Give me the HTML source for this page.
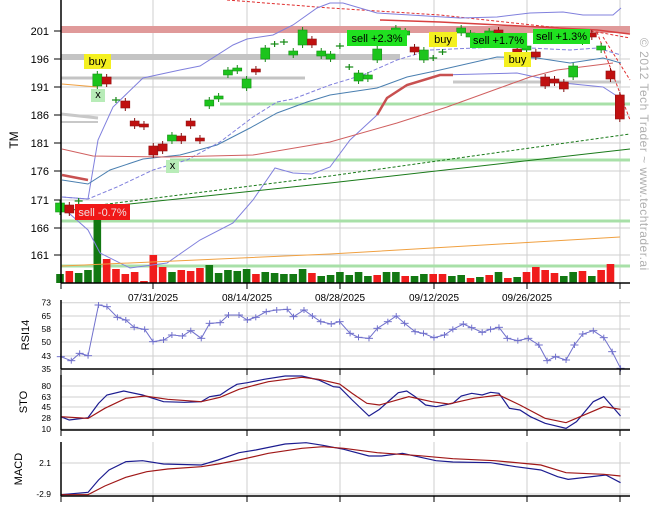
<!DOCTYPE html>
<html><head><meta charset="utf-8"><style>
body{margin:0;background:#fff}
svg{display:block;font-family:"Liberation Sans",sans-serif}
</style></head><body>
<svg id="s" width="657" height="514" viewBox="0 0 657 514" xmlns="http://www.w3.org/2000/svg">
<rect width="657" height="514" fill="#fff"/>
<g id="grid" stroke="#cfcfcf" stroke-width="1"></g>
<g id="bands"></g>
<g id="vol"></g>
<g id="lines" fill="none"></g>
<g id="cand"></g>
<g id="labels" font-size="11"></g>
<g id="axes" stroke="#000" stroke-width="1.5"></g>
<g id="txt" font-size="9" fill="#000"></g>
<text x="640" y="38" transform="rotate(90 640 38)" font-size="12" fill="#b0b0b0" letter-spacing="0.5">© 2012 Tech Trader ~ www.techtrader.ai</text>
</svg>
<script>
const NS="http://www.w3.org/2000/svg";
function el(p,t,a,txt){const e=document.createElementNS(NS,t);for(const k in a)e.setAttribute(k,a[k]);if(txt!==undefined)e.textContent=txt;document.getElementById(p).appendChild(e);return e;}
function pl(p,pts,st,w,dash){el(p,'polyline',{points:pts.map(q=>q.join(',')).join(' '),stroke:st,'stroke-width':w||1,fill:'none','stroke-dasharray':dash||'none'});}
const L=61,R=630;
const vx=[153,247,340,434,527,620];
[31,59,87,115,143,171,200,228,255].forEach(y=>el('grid','line',{x1:L,x2:R,y1:y,y2:y}));
[302.7,316,329,342,356,369].forEach(y=>el('grid','line',{x1:L,x2:R,y1:y,y2:y}));
[386,397,407,418,429].forEach(y=>el('grid','line',{x1:L,x2:R,y1:y,y2:y}));
[463,494].forEach(y=>el('grid','line',{x1:L,x2:R,y1:y,y2:y}));
vx.forEach(x=>{[[0,283],[300,369],[375,430],[442,496]].forEach(r=>el('grid','line',{x1:x,x2:x,y1:r[0],y2:r[1]}));});
el('bands','rect',{x:L,y:26,width:R-L,height:7,fill:'#e09a9a'});
el('bands','line',{x1:L,x2:400,y1:57,y2:57,stroke:'#c4c4c4','stroke-width':6});
el('bands','line',{x1:L,x2:305,y1:78,y2:78,stroke:'#c4c4c4','stroke-width':3});
el('bands','line',{x1:453,x2:621,y1:82,y2:82,stroke:'#c8c8c8','stroke-width':3});
el('bands','line',{x1:L,x2:98,y1:114,y2:118,stroke:'#c8c8c8','stroke-width':3});
el('bands','line',{x1:L,x2:98,y1:122,y2:122,stroke:'#c8c8c8','stroke-width':2});
[[220,104],[170,160],[L,221],[L,266]].forEach(a=>el('bands','line',{x1:a[0],x2:R,y1:a[1],y2:a[1],stroke:'#a8e0a8','stroke-width':3}));
const vol=[['g',274],['r',271],['g',273],['g',270],['g',216],['r',259],['r',269],['r',274],['r',272],['r',281],['r',255],['r',267],['g',272],['r',270],['r',271],['r',268],['g',265],['g',273],['g',270],['g',271],['g',269],['r',274],['g',272],['g',273],['g',274],['g',274],['g',269],['r',273],['g',276],
['g',275],['g',272],['g',275],['g',272],['g',276],['r',275],['g',272],['g',272],['r',276],['g',276],['g',274],['r',274],['r',274],['g',276],['g',275],['r',278],['g',277],['r',275],['g',272],['r',278],['g',277],['r',272],['r',267],['r',270],['r',273],['g',276],['g',272],['r',271],['g',276],['r',270],['r',264]];
const X=i=>60+9.33*i;
vol.forEach((v,i)=>el('vol','rect',{x:X(i)-3.8,y:v[1],width:7.6,height:283-v[1],fill:v[0]=='g'?'#127812':'#f01c1c'}));
pl('lines',[[227,0],[330,8],[440,15],[597,32],[630,38]],'#e03030',1,'3,2');
pl('lines',[[380,20],[440,22],[500,25],[597,30],[630,34]],'#d84040',1.5);
pl('lines',[[597,32],[630,120]],'#e03030',1,'3,2');
pl('lines',[[603,37],[630,80]],'#e03030',1,'3,2');
pl('lines',[[62,197],[88,199],[98,140],[113,107],[143,78],[180,70],[200,66],[233,45],[247,39],[273,35],[293,25],[317,8],[330,3],[343,3],[377,13],[460,18],[497,17],[530,13],[563,12],[583,15],[613,15],[621,8]],'#8080dd',1);
pl('lines',[[62,180],[88,184],[110,170],[143,159],[180,155],[217,145],[250,128],[277,113],[307,102],[330,95],[377,88],[407,77],[440,70],[497,57],[537,58],[570,63],[603,58],[621,63]],'#4a7fb0',1);
pl('lines',[[62,197],[88,199],[117,187],[153,170],[187,160],[220,142],[253,117],[277,102],[293,99],[330,85],[363,75],[397,60],[430,50],[497,47],[530,48],[570,50],[597,48],[621,55]],'#8080dd',1,'4,2');
pl('lines',[[62,207],[88,230],[100,253],[130,268],[167,263],[200,240],[233,223],[253,200],[275,168],[293,173],[312,174],[330,167],[350,140],[377,115],[387,98],[407,85],[440,75],[517,73],[563,83],[603,87],[620,98]],'#8080dd',1);
pl('lines',[[377,115],[387,98],[407,85],[440,75],[453,75]],'#c85050',2.5);
pl('lines',[[62,175],[88,180]],'#c85050',2.5);
pl('lines',[[62,149],[93,156],[167,157],[253,155],[330,142],[397,123],[447,107],[530,77],[557,70],[613,63]],'#d06060',1);
pl('lines',[[62,211],[330,183],[630,149]],'#1a7a1a',1);
pl('lines',[[100,205],[330,176],[630,134]],'#1a7a1a',1,'3,2');
pl('lines',[[62,84],[97,87]],'#f0a040',1);
pl('lines',[[62,266],[330,254],[620,237]],'#f0a040',1);
const C=[[0,'g',203,212],[1,'r',205,213],[2,'x',201],[4,'g',74,86],[5,'r',77,84],[6,'x',100],[7,'r',101,108],[8,'r',121,126],[9,'r',124,127],[10,'r',146,155],[11,'r',144,151],[12,'g',135,141],[13,'r',136,141],[14,'r',121,126],[15,'r',138,141],[16,'g',100,106],[17,'g',96,99],[18,'g',70,75],[19,'g',68,71],[20,'g',79,88],[21,'r',69,72],[22,'g',48,59],[23,'x',44],[24,'x',42],[25,'g',51,55],[26,'g',30,45],[27,'r',39,45],[28,'g',51,56],[29,'g',54,59],[30,'x',46],[31,'x',67],[32,'g',73,81],[33,'g',75,79],[34,'g',49,60],[36,'g',28,33],[37,'g',31,35],[38,'r',47,52],[39,'g',50,60],[40,'x',58],[41,'x',52],[43,'g',28,33],[44,'g',33,37],[46,'g',31,34],[47,'r',30,33],[49,'r',49,52],[50,'g',46,50],[51,'r',52,57],[52,'r',77,86],[53,'r',79,83],[54,'r',82,89],[55,'g',66,77],[56,'g',38,42],[57,'r',33,37],[58,'g',46,50],[59,'r',71,79],[60,'r',95,119]];
C.forEach(c=>{const x=X(c[0]);
 if(c[1]=='x'){el('cand','line',{x1:x-4,x2:x+4,y1:c[2],y2:c[2],stroke:'#128812','stroke-width':1.2});el('cand','line',{x1:x,x2:x,y1:c[2]-3,y2:c[2]+3,stroke:'#128812','stroke-width':1.2});return;}
 const col=c[1]=='g'?'#1cc41c':'#c01010';
 el('cand','line',{x1:x,x2:x,y1:c[2]-3,y2:c[3]+3,stroke:c[1]=='g'?'#128812':'#801010','stroke-width':1});
 el('cand','rect',{x:x-4.5,y:c[2],width:9,height:Math.max(2,c[3]-c[2]),fill:col,stroke:c[1]=='g'?'#189018':'#901010','stroke-width':0.6});});
function lab(x,y,w,h,bg,t,fc){el('labels','rect',{x:x,y:y,width:w,height:h,fill:bg});el('labels','text',{x:x+w/2,y:y+h-4,'text-anchor':'middle',fill:fc||'#000'},t);}
lab(84,54,27,15,'#f4f020','buy');
lab(91,89,14,13,'#b8ecb8','x');
lab(166,160,13,13,'#b8ecb8','x');
lab(75,204,55,16,'#f01818','sell -0.7%','#f0e0e0');
lab(347,30,60,16,'#20e020','sell +2.3%');
lab(429,32,28,15,'#f4f020','buy');
lab(470,33,57,15,'#20e020','sell +1.7%');
lab(504,52,27,15,'#f4f020','buy');
lab(533,29,57,15,'#20e020','sell +1.3%');
const sx=z=>z/2.385, sy=z=>290+z/3;
const rsi=[[145,200],[170,212],[190,190],[210,197],[235,45],[255,50],[280,82],[300,90],[320,112],[345,118],[365,155],[390,150],[410,135],[435,138],[455,122],[480,145],[500,100],[525,98],[545,75],[570,75],[590,90],[610,82],[635,65],[660,60],[685,58],[700,80],[725,60],[745,78],[765,95],[790,102],[810,95],[835,130],[855,142],[880,145],[900,115],[925,95],[945,78],[965,100],[990,125],[1010,130],[1035,143],[1060,135],[1080,118],[1105,102],[1125,113],[1150,127],[1170,118],[1190,112],[1210,145],[1235,152],[1260,145],[1285,165],[1305,212],[1325,200],[1350,210],[1370,165],[1390,132],[1415,122],[1440,143],[1460,185],[1480,235]].map(p=>[sx(p[0]),sy(p[1])]);
pl('lines',rsi,'#7070cc',1);
rsi.forEach(p=>{el('lines','line',{x1:p[0]-4,x2:p[0]+4,y1:p[1],y2:p[1],stroke:'#7070cc'});el('lines','line',{x1:p[0],x2:p[0],y1:p[1]-3,y2:p[1]+3,stroke:'#7070cc'});});
const stoB=[[145,380],[165,390],[210,383],[235,340],[255,315],[295,303],[340,315],[390,335],[440,337],[480,335],[500,320],[525,315],[545,298],[565,283],[590,278],[630,268],[680,258],[720,258],[760,270],[795,290],[810,292],[840,330],[880,378],[905,358],[930,330],[950,308],[970,303],[990,320],[1015,345],[1040,350],[1080,340],[1100,318],[1125,310],[1150,315],[1170,307],[1190,310],[1215,355],[1240,360],[1265,380],[1300,400],[1350,415],[1375,395],[1415,335],[1440,320],[1480,378]];
const stoR=[[145,380],[210,385],[250,355],[300,325],[345,318],[400,328],[480,335],[525,322],[570,298],[640,275],[720,262],[760,268],[810,282],[840,310],[875,340],[905,345],[975,320],[1030,335],[1070,342],[1130,325],[1190,315],[1240,345],[1300,385],[1350,398],[1440,350],[1480,358]];
const mB=[[145,614],[210,607],[235,570],[260,540],[300,515],[340,512],[390,522],[480,525],[520,510],[570,488],[610,480],[680,462],[730,458],[770,466],[820,478],[880,498],[910,498],[960,490],[1040,512],[1080,516],[1170,518],[1230,530],[1290,540],[1330,560],[1355,568],[1445,555],[1480,578]];
const mR=[[145,614],[210,614],[250,588],[300,562],[350,545],[400,537],[480,530],[520,522],[570,510],[640,490],[720,475],[770,470],[820,475],[900,488],[1000,497],[1080,506],[1180,512],[1290,525],[1350,548],[1440,553],[1480,558]];
const m=a=>a.map(p=>[sx(p[0]),sy(p[1])]);
pl('lines',m(stoB),'#1c1c90',1.2);pl('lines',m(stoR),'#a01818',1.2);
pl('lines',m(mB),'#1c1c90',1.2);pl('lines',m(mR),'#a01818',1.2);
[[0,283],[300,369],[375,430],[442,496]].forEach(r=>{el('axes','line',{x1:L,x2:L,y1:r[0],y2:r[1]});el('axes','line',{x1:L,x2:R,y1:r[1],y2:r[1]});
 vx.concat([61]).forEach(x=>el('axes','line',{x1:x,x2:x,y1:r[1],y2:r[1]+6,'stroke-width':1}));});
[[201,31],[196,59],[191,87],[186,115],[181,143],[176,171],[171,200],[166,228],[161,255]].forEach(a=>{el('txt','text',{x:49,y:a[1]+4,'text-anchor':'end','font-size':11},a[0]);el('axes','line',{x1:54,x2:L,y1:a[1],y2:a[1],'stroke-width':1});});
[[73,302.7],[65,316],[58,329],[50,342],[43,356],[35,369]].forEach(a=>el('txt','text',{x:51,y:a[1]+3,'text-anchor':'end','font-size':8.5},a[0]));
[[80,386],[63,397],[45,407],[28,418],[10,429]].forEach(a=>el('txt','text',{x:51,y:a[1]+3,'text-anchor':'end','font-size':8.5},a[0]));
[['2.1',463],['-2.9',494]].forEach(a=>el('txt','text',{x:51,y:a[1]+3,'text-anchor':'end','font-size':8.5},a[0]));
['07/31/2025','08/14/2025','08/28/2025','09/12/2025','09/26/2025'].forEach((t,i)=>el('txt','text',{x:vx[i],y:301,'text-anchor':'middle','font-size':10},t));
el('txt','text',{x:18,y:140,transform:'rotate(-90 18 140)','text-anchor':'middle','font-size':12},'TM');
el('txt','text',{x:29,y:335,transform:'rotate(-90 29 335)','text-anchor':'middle','font-size':11},'RSI14');
el('txt','text',{x:27,y:402,transform:'rotate(-90 27 402)','text-anchor':'middle','font-size':11},'STO');
el('txt','text',{x:22,y:469,transform:'rotate(-90 22 469)','text-anchor':'middle','font-size':11},'MACD');
</script>
</body></html>
